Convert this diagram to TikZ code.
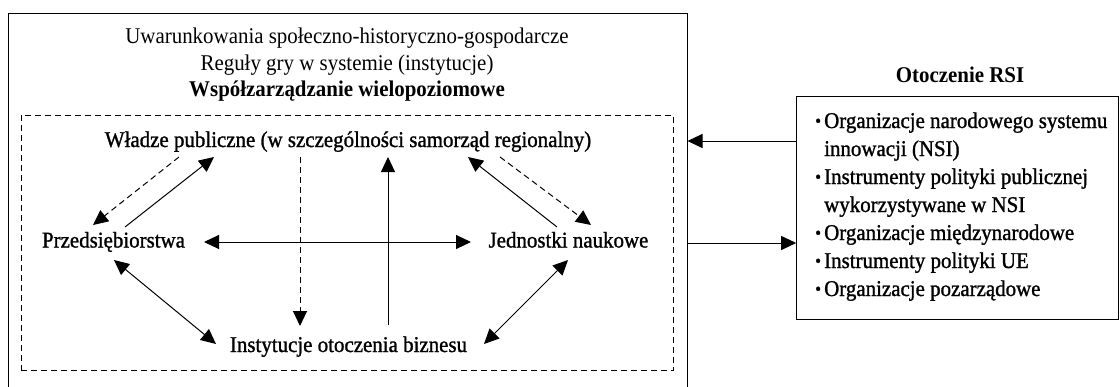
\documentclass[tikz,border=0pt]{standalone}
\usepackage{fontspec}
\setmainfont{Liberation Serif}[FakeStretch=0.93]
\newfontface\semib{Liberation Serif}[FakeStretch=0.93,FakeBold=1.2]
\usetikzlibrary{arrows.meta}
\newcommand{\smbul}{\makebox[9pt][l]{\raisebox{1.2pt}{\fontsize{18}{18}\selectfont\textbullet}}}
\begin{document}
\begin{tikzpicture}[x=1pt,y=-1pt,
  lbl/.style={font=\fontsize{22.5}{26}\selectfont, inner sep=0pt, anchor=base},
  slbl/.style={font=\semib\fontsize{22.5}{26}\selectfont, inner sep=0pt, anchor=base},
  blbl/.style={font=\bfseries\fontsize{22.5}{26}\selectfont, inner sep=0pt, anchor=base},
  elbl/.style={font=\semib\fontsize{22.5}{26}\selectfont, inner sep=0pt, anchor=base west},
  tip/.tip={Triangle[length=15pt,width=14pt]},
  link/.style={line width=1pt, -tip},
  dlink/.style={link, dash pattern=on 6pt off 4pt},
  both/.style={line width=1pt, tip-tip},
  frame/.style={draw, line width=1pt, inner sep=0pt, anchor=center},
]
\useasboundingbox (0,0) rectangle (1120,386);

% frames
\node[frame, minimum width=678.5pt, minimum height=377pt] (outer) at (347.75,201.5) {};
\node[frame, dash pattern=on 6pt off 4pt, minimum width=652pt, minimum height=255.7pt] (inner) at (347,242.85) {};
\node[frame, minimum width=321.3pt, minimum height=222.3pt] (envbox) at (957.35,207.85) {};

% header texts
\node[lbl] (t1) at (347,43) {Uwarunkowania społeczno-historyczno-gospodarcze};
\node[lbl] (t2) at (347,70) {Reguły gry w systemie (instytucje)};
\node[blbl] (t3) at (347,96) {Współzarządzanie wielopoziomowe};
\node[blbl] (envtitle) at (960,82) {Otoczenie RSI};

% actors
\node[slbl] (W) at (348,147) {Władze publiczne (w szczególności samorząd regionalny)};
\node[slbl] (P) at (113.5,247.5) {Przedsiębiorstwa};
\node[slbl] (J) at (568.5,247.5) {Jednostki naukowe};
\node[slbl] (I) at (348.5,352) {Instytucje otoczenia biznesu};

% environment list
\node[elbl] (e1) at (815,128) {\smbul Organizacje narodowego systemu};
\node[elbl] (e2) at (824,156) {innowacji (NSI)};
\node[elbl] (e3) at (815,184) {\smbul Instrumenty polityki publicznej};
\node[elbl] (e4) at (824,212) {wykorzystywane w NSI};
\node[elbl] (e5) at (815,240) {\smbul Organizacje międzynarodowe};
\node[elbl] (e6) at (815,268) {\smbul Instrumenty polityki UE};
\node[elbl] (e7) at (815,296) {\smbul Organizacje pozarządowe};

% connectors inside
\draw[dlink] ([shift={(-169,10)}]W.base) -- ([shift={(-20.5,-22.5)}]P.base);
\draw[link]  ([shift={(11.5,-20.5)}]P.base) -- ([shift={(-134,10)}]W.base);
\draw[link]  ([shift={(-11.5,-20.5)}]J.base) -- ([shift={(120,10)}]W.base);
\draw[dlink] ([shift={(152,10)}]W.base) -- ([shift={(22.5,-22.5)}]J.base);
\draw[dlink] ([shift={(-48,10)}]W.base) -- ([shift={(-48.5,-26)}]I.base);
\draw[link]  ([shift={(39.5,-27)}]I.base) -- ([shift={(40,10)}]W.base);
\draw[both]  ([shift={(90.5,-5.5)}]P.base) -- ([shift={(-97.5,-5.5)}]J.base);
\draw[both]  ([shift={(0.5,12.5)}]P.base) -- ([shift={(-132.5,-8)}]I.base);
\draw[both]  ([shift={(-0.5,12.5)}]J.base) -- ([shift={(135.5,-8)}]I.base);

% links to environment
\draw[link] ([shift={(0,-66.85)}]envbox.west) -- ([shift={(0,-60.5)}]outer.east);
\draw[link] ([shift={(0,41.5)}]outer.east) -- ([shift={(0,35.15)}]envbox.west);
\end{tikzpicture}
\end{document}
